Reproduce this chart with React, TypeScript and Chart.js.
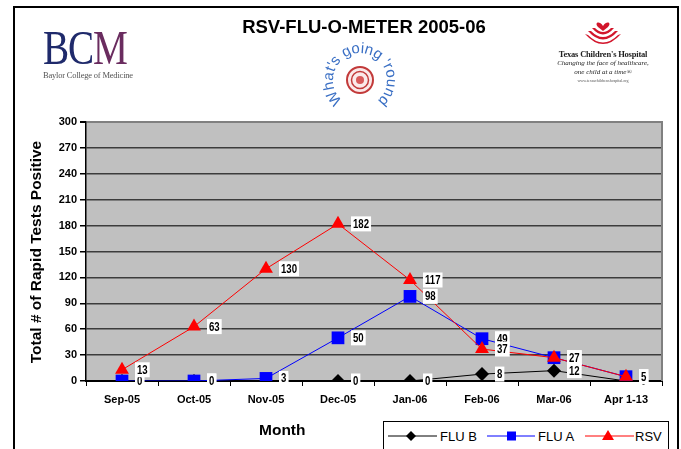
import React, { useEffect, useRef } from "react";
import { Chart, registerables } from "chart.js";

Chart.register(...registerables);

const months = ["Sep-05", "Oct-05", "Nov-05", "Dec-05", "Jan-06", "Feb-06", "Mar-06", "Apr 1-13"];
const fluB = [0, 0, 0, 0, 0, 8, 12, 0];
const fluA = [0, 0, 3, 50, 98, 49, 27, 5];
const rsv = [13, 63, 130, 182, 117, 37, 27, 5];
const seriesNames = ["FLU B", "FLU A", "RSV"];
const yMin = 0;
const yMax = 300;
const yStep = 30;

const FONT = "Arial, 'Liberation Sans', sans-serif";

const bgPlugin = {
  id: "plotBg",
  beforeDraw(chart: any) {
    const { ctx, chartArea } = chart;
    const { left, top, right, bottom } = chartArea;
    ctx.save();
    ctx.fillStyle = "#C0C0C0";
    ctx.fillRect(left, top, right - left, bottom - top);
    ctx.restore();
  },
  beforeDatasetsDraw(chart: any) {
    const { ctx, chartArea } = chart;
    const { top, right, bottom } = chartArea;
    ctx.save();
    ctx.strokeStyle = "#808080";
    ctx.lineWidth = 2;
    ctx.beginPath();
    ctx.moveTo(right, top - 1);
    ctx.lineTo(right, bottom);
    ctx.stroke();
    ctx.restore();
  },
};

const labelPlugin = {
  id: "valueLabels",
  afterDatasetsDraw(chart: any) {
    const { ctx } = chart;
    ctx.save();
    ctx.font = `bold 13px ${FONT}`;
    ctx.textBaseline = "middle";
    ctx.textAlign = "left";
    chart.data.datasets.forEach((ds: any, i: number) => {
      const meta = chart.getDatasetMeta(i);
      meta.data.forEach((pt: any, j: number) => {
        const text = String(ds.data[j]);
        const sx = 0.74;
        const w = ctx.measureText(text).width * sx;
        const bx = pt.x + 13;
        const by = pt.y - 7.5;
        ctx.fillStyle = "#FFFFFF";
        ctx.fillRect(bx, by, w + 4, 15);
        ctx.save();
        ctx.translate(bx + 2, pt.y + 0.5);
        ctx.scale(sx, 1);
        ctx.fillStyle = "#000000";
        ctx.fillText(text, 0, 0);
        ctx.restore();
      });
    });
    ctx.restore();
  },
};

function TexasLogo() {
  return (
    <div style={{ position: "absolute", left: 552, top: 15, width: 102, textAlign: "center", fontFamily: "'Liberation Serif', 'Times New Roman', serif", color: "#222" }}>
      <svg width="40" height="32" viewBox="0 0 40 30" style={{ display: "block", margin: "0 auto" }}>
        <path d="M20 10 C16 4,11 7,15 11 L20 15 L25 11 C29 7,24 4,20 10 Z" fill="#d2152b" />
        <path d="M9 12 Q20 25 31 12 L28 12 Q20 20 12 12 Z" fill="#d2152b" />
        <path d="M5 15 Q20 32 35 15 L32 15 Q20 27 8 15 Z" fill="#d2152b" />
        <path d="M2 18 Q20 38 38 18 L35 19 Q20 34 5 19 Z" fill="#d2152b" />
      </svg>
      <div style={{ fontSize: 8.5, fontWeight: "bold", marginTop: 2, whiteSpace: "nowrap", letterSpacing: -0.2 }}>Texas Children's Hospital</div>
      <div style={{ fontSize: 7, fontStyle: "italic", whiteSpace: "nowrap", lineHeight: "9px" }}>Changing the face of healthcare,</div>
      <div style={{ fontSize: 7, fontStyle: "italic", whiteSpace: "nowrap", lineHeight: "9px" }}>one child at a time®</div>
      <div style={{ fontSize: 4, whiteSpace: "nowrap", color: "#555", lineHeight: "7px" }}>www.texaschildrenshospital.org</div>
    </div>
  );
}

function BcmLogo() {
  return (
    <div style={{ position: "absolute", left: 43, top: 25, width: 100, fontFamily: "'Liberation Serif', 'Times New Roman', serif" }}>
      <div style={{ fontSize: 49, lineHeight: "46px", transform: "scaleX(0.8)", transformOrigin: "left", whiteSpace: "nowrap", letterSpacing: -1.5 }}>
        <span style={{ color: "#1f2a6b" }}>BC</span>
        <span style={{ color: "#6a2c5f" }}>M</span>
      </div>
      <div style={{ fontSize: 8.5, color: "#555", whiteSpace: "nowrap", marginTop: -1, letterSpacing: -0.2 }}>Baylor College of Medicine</div>
    </div>
  );
}

function RoundLogo() {
  const cx = 46, cy = 38, r = 27;
  const a0 = (-160 * Math.PI) / 180;
  const a1 = (160 * Math.PI) / 180;
  const sx = cx + r * Math.sin(a0), sy = cy - r * Math.cos(a0);
  const ex = cx + r * Math.sin(a1), ey = cy - r * Math.cos(a1);
  return (
    <svg width="94" height="80" style={{ position: "absolute", left: 314, top: 42 }}>
      <defs>
        <path id="roundPath" d={`M ${sx} ${sy} A ${r} ${r} 0 1 1 ${ex} ${ey}`} />
      </defs>
      <circle cx={cx} cy={cy} r={13} fill="#fbe9e9" stroke="#c23a3a" strokeWidth="2" />
      <circle cx={cx} cy={cy} r={8.5} fill="none" stroke="#c23a3a" strokeWidth="1.5" />
      <circle cx={cx} cy={cy} r={4} fill="#d95a5a" />
      <text fontFamily={FONT} fontSize="15" fill="#3a6fc4" textAnchor="middle">
        <textPath href="#roundPath" startOffset="50%">What's going 'round</textPath>
      </text>
    </svg>
  );
}

function Legend() {
  const cy = 15;
  return (
    <svg width="290" height="30" style={{ position: "absolute", left: 383, top: 421 }}>
      <rect x="0.5" y="0.5" width="285" height="40" fill="#fff" stroke="#000" strokeWidth="1" />
      <line x1="5" y1={cy} x2="54" y2={cy} stroke="#000" strokeWidth="1" />
      <polygon points={`28,${cy - 5} 33,${cy} 28,${cy + 5} 23,${cy}`} fill="#000" />
      <text x="57" y={cy + 5} fontFamily={FONT} fontSize="13" fill="#000">{seriesNames[0]}</text>
      <line x1="104" y1={cy} x2="152" y2={cy} stroke="#0000FF" strokeWidth="1" />
      <rect x="124" y={cy - 4.5} width="9" height="9" fill="#0000FF" />
      <text x="155" y={cy + 5} fontFamily={FONT} fontSize="13" fill="#000">{seriesNames[1]}</text>
      <line x1="202" y1={cy} x2="251" y2={cy} stroke="#FF0000" strokeWidth="1" />
      <polygon points={`225,${cy - 6} 231,${cy + 4} 219,${cy + 4}`} fill="#FF0000" />
      <text x="252" y={cy + 5} fontFamily={FONT} fontSize="13" fill="#000">{seriesNames[2]}</text>
    </svg>
  );
}

export default function App() {
  const ref = useRef<HTMLCanvasElement | null>(null);

  useEffect(() => {
    if (!ref.current) return;
    const tickFont = { family: FONT, weight: "bold" as const, size: 11 };
    const chart = new Chart(ref.current, {
      type: "line",
      data: {
        labels: months,
        datasets: [
          {
            label: seriesNames[0],
            data: fluB,
            borderColor: "#000000",
            backgroundColor: "#000000",
            borderWidth: 1,
            pointStyle: "rectRot",
            pointRadius: 7,
            pointBorderWidth: 0,
            order: 3,
          },
          {
            label: seriesNames[1],
            data: fluA,
            borderColor: "#0000FF",
            backgroundColor: "#0000FF",
            borderWidth: 1,
            pointStyle: "rect",
            pointRadius: 9,
            pointBorderWidth: 0,
            order: 2,
          },
          {
            label: seriesNames[2],
            data: rsv,
            borderColor: "#FF0000",
            backgroundColor: "#FF0000",
            borderWidth: 1,
            pointStyle: "triangle",
            pointRadius: 8,
            pointBorderWidth: 0,
            order: 1,
          },
        ],
      },
      options: {
        responsive: false,
        animation: false,
        devicePixelRatio: 1,
        layout: { padding: { left: 0, top: 122, right: 19, bottom: 0 } },
        plugins: {
          legend: { display: false },
          tooltip: { enabled: false },
          title: { display: false },
        },
        elements: { line: { tension: 0 } },
        scales: {
          x: {
            type: "category",
            offset: true,
            grid: {
              offset: true,
              drawOnChartArea: false,
              drawTicks: true,
              tickLength: 5,
              color: "#000000",
              lineWidth: 1,
            },
            border: { color: "#000000", width: 2 },
            ticks: { color: "#000000", font: tickFont, padding: 7, maxRotation: 0, autoSkip: false },
            afterFit(scale: any) {
              scale.height = 68;
            },
          },
          y: {
            min: yMin,
            max: yMax,
            ticks: { stepSize: yStep, color: "#000000", font: tickFont, padding: 3 },
            grid: {
              color: (c: any) => (c.tick && c.tick.value === yMax ? "#808080" : "#3c3c3c"),
              lineWidth: (c: any) => (c.tick && c.tick.value === yMax ? 2 : 1.5),
              tickColor: "#000000",
              tickLength: 6,
            },
            border: { color: "#000000", width: 1.5 },
            afterFit(scale: any) {
              scale.width = 86;
            },
          },
        },
      },
      plugins: [bgPlugin, labelPlugin],
    });
    return () => chart.destroy();
  }, []);

  return (
    <div style={{ position: "absolute", left: 0, top: 0, width: 681, height: 449, overflow: "hidden", background: "#fff" }}>
      <canvas ref={ref} width={681} height={449} style={{ position: "absolute", left: 0, top: 0, width: 681, height: 449 }} />
      <div style={{ position: "absolute", left: 13, top: 6, width: 662, height: 470, borderLeft: "2px solid #000", borderTop: "2px solid #000", borderRight: "2px solid #000", pointerEvents: "none" }} />
      <div style={{ position: "absolute", left: 0, width: 728, top: 16, textAlign: "center", fontFamily: FONT, fontWeight: "bold", fontSize: 18.5, color: "#000", whiteSpace: "nowrap" }}>
        RSV-FLU-O-METER 2005-06
      </div>
      <BcmLogo />
      <RoundLogo />
      <TexasLogo />
      <div style={{ position: "absolute", left: 36, top: 252, width: 0, height: 0 }}>
        <div style={{ position: "absolute", left: 0, top: 0, transform: "translate(-50%, -50%) rotate(-90deg)", fontFamily: FONT, fontWeight: "bold", fontSize: 15.5, color: "#000", whiteSpace: "nowrap" }}>
          Total # of Rapid Tests Positive
        </div>
      </div>
      <div style={{ position: "absolute", left: 259, top: 421, fontFamily: FONT, fontWeight: "bold", fontSize: 15.5, color: "#000", whiteSpace: "nowrap" }}>
        Month
      </div>
      <Legend />
    </div>
  );
}
